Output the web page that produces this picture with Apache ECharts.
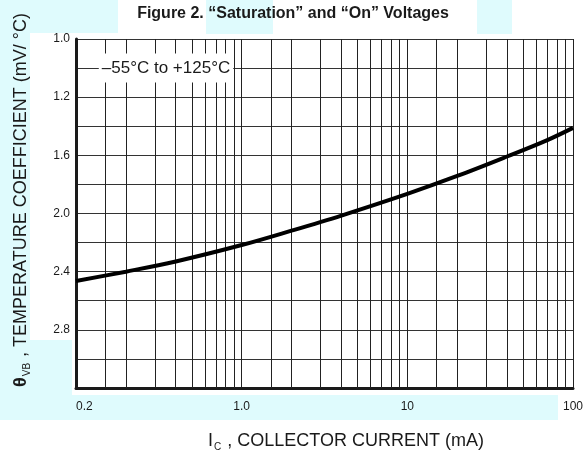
<!DOCTYPE html>
<html>
<head>
<meta charset="utf-8">
<script src="https://cdn.jsdelivr.net/npm/echarts@6/dist/echarts.min.js"></script>
<style>
html,body{margin:0;padding:0;background:#fff;}
#chart{width:586px;height:450px;}
</style>
</head>
<body>
<div id="chart"></div>
<script>
// ---- data ----
const titleText = 'Figure 2. \u201cSaturation\u201d and \u201cOn\u201d Voltages';
const xTickLabels = ['0.2', '1.0', '10', '100'];
const yTickLabels = ['1.0', '', '1.2', '', '1.6', '', '2.0', '', '2.4', '', '2.8', '', ''];
const xMinorGrid = [0.15, 0.2, 0.3, 0.4, 0.5, 0.6, 0.7, 0.8, 0.9,
                    1.5, 2, 3, 4, 5, 6, 7, 8, 9,
                    15, 20, 30, 40, 50, 60, 70, 80, 90];
const currentMA = [0.1, 0.2, 0.4, 1, 2, 4, 10, 20, 40, 70, 100];
const tempCoeff = [2.464, 2.400, 2.330, 2.217, 2.118, 2.014, 1.865, 1.742, 1.608, 1.495, 1.411];
const annotation = '\u201355\u00b0C to +125\u00b0C';

const FONT = '"Liberation Sans", Arial, sans-serif';
const INK = '#1a1a1a';
const WM = '#dffbfd';

const chart = echarts.init(document.getElementById('chart'), null, {renderer: 'canvas'});

const option = {
  backgroundColor: '#ffffff',
  animation: false,
  title: {
    text: titleText,
    left: 'center',
    top: 1,
    textStyle: {fontFamily: FONT, fontSize: 16, fontWeight: 'bold', color: INK}
  },
  grid: {left: 76, right: 12, top: 39, bottom: 62, containLabel: false,
          show: true, backgroundColor: '#ffffff', borderWidth: 0},
  xAxis: {
    type: 'log',
    logBase: 10,
    min: 0.1,
    max: 100,
    axisLine: {show: true, onZero: false, lineStyle: {color: INK, width: 3}},
    axisTick: {show: false},
    axisLabel: {
      fontFamily: FONT, fontSize: 12, color: INK, margin: 13,
      alignMinLabel: 'left',
      formatter: function (v, i) { return xTickLabels[i] !== undefined ? xTickLabels[i] : ''; }
    },
    splitLine: {show: true, lineStyle: {color: '#222', width: 1}}
  },
  yAxis: {
    type: 'value',
    inverse: true,
    min: 0.8,
    max: 3.2,
    interval: 0.2,
    axisLine: {show: true, onZero: false, lineStyle: {color: INK, width: 3}},
    axisTick: {show: false},
    axisLabel: {
      fontFamily: FONT, fontSize: 12, color: INK, margin: 6,
      padding: [5, 0, 0, 0],
      formatter: function (v, i) { return yTickLabels[i] !== undefined ? yTickLabels[i] : ''; }
    },
    splitLine: {show: true, showMinLine: true, showMaxLine: true, lineStyle: {color: '#333', width: 1}}
  },
  series: [{
    type: 'line',
    data: currentMA.map((x, i) => [x, tempCoeff[i]]),
    smooth: 0.35,
    showSymbol: false,
    symbol: 'none',
    lineStyle: {color: '#000', width: 4},
    z: 5,
    markLine: {
      silent: true,
      symbol: ['none', 'none'],
      label: {show: false},
      lineStyle: {color: '#222', width: 1, type: 'solid'},
      data: xMinorGrid.map(v => ({xAxis: v}))
    }
  }],
  graphic: [
    // faint watermark blocks behind the page
    {type: 'rect', z: -10, silent: true, shape: {x: 0, y: 0, width: 118, height: 33}, style: {fill: WM}},
    {type: 'rect', z: -10, silent: true, shape: {x: 206, y: 0, width: 67, height: 34}, style: {fill: WM}},
    {type: 'rect', z: -10, silent: true, shape: {x: 477, y: 0, width: 35, height: 34}, style: {fill: WM}},
    {type: 'rect', z: -10, silent: true, shape: {x: 0, y: 33, width: 30, height: 362}, style: {fill: WM}},
    {type: 'rect', z: -10, silent: true, shape: {x: 0, y: 340, width: 72, height: 55}, style: {fill: WM}},
    {type: 'rect', z: -10, silent: true, shape: {x: 0, y: 395, width: 558, height: 25}, style: {fill: WM}},
    // annotation box
    {
      type: 'text', z: 100, silent: true,
      x: 166, y: 68,
      style: {
        text: annotation,
        fontFamily: FONT, fontSize: 17, fill: INK,
        align: 'center', verticalAlign: 'middle',
        textAlign: 'center', textVerticalAlign: 'middle',
        backgroundColor: '#ffffff', padding: [6, 3, 6, 3]
      }
    },
    // x axis title
    {
      type: 'text', z: 100, silent: true,
      x: 208, y: 441,
      style: {
        text: '{i|I}{s|C}{t| , COLLECTOR CURRENT (mA)}',
        align: 'left', verticalAlign: 'middle',
        textAlign: 'left', textVerticalAlign: 'middle',
        fill: INK,
        rich: {
          i: {fontFamily: FONT, fontSize: 18, fill: INK, lineHeight: 22, verticalAlign: 'middle'},
          s: {fontFamily: FONT, fontSize: 10, fill: INK, lineHeight: 22, verticalAlign: 'bottom', padding: [0, 1, 0, 1]},
          t: {fontFamily: FONT, fontSize: 18, fill: INK, lineHeight: 22, verticalAlign: 'middle'}
        }
      }
    },
    // y axis title
    {
      type: 'text', z: 100, silent: true,
      x: 21, y: 200, rotation: Math.PI / 2,
      style: {
        text: '{th|\u03b8}{s|VB}{t| , TEMPERATURE COEFFICIENT (mV/ \u00b0C)}',
        align: 'center', verticalAlign: 'middle',
        textAlign: 'center', textVerticalAlign: 'middle',
        fill: INK,
        rich: {
          th: {fontFamily: FONT, fontSize: 18, fontWeight: 'bold', fill: INK, lineHeight: 22, verticalAlign: 'middle'},
          s: {fontFamily: FONT, fontSize: 10, fill: INK, lineHeight: 22, verticalAlign: 'bottom', padding: [0, 1, 0, 1]},
          t: {fontFamily: FONT, fontSize: 18, fill: INK, lineHeight: 22, verticalAlign: 'middle'}
        }
      }
    }
  ]
};

chart.setOption(option);
</script>
</body>
</html>
